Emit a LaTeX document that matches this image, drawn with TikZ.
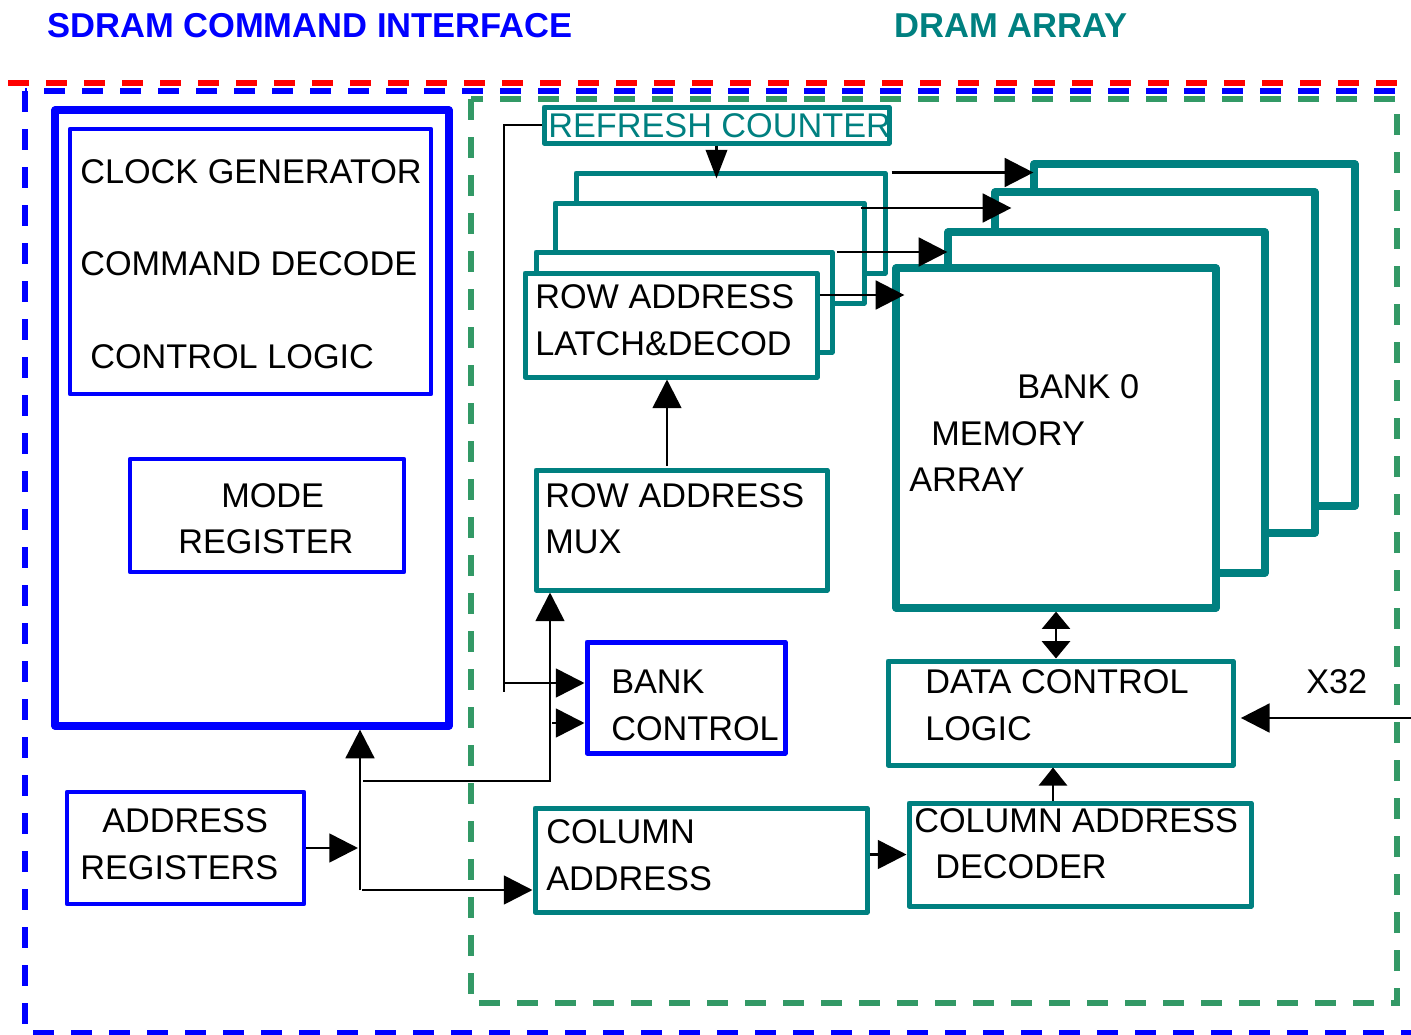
\documentclass[tikz,border=0pt]{standalone}
\usepackage{fontspec}
\setmainfont{Liberation Sans}
\usetikzlibrary{arrows.meta,calc,fit}

\definecolor{sdblue}{RGB}{0,0,255}
\definecolor{arrteal}{RGB}{0,128,128}
\definecolor{arrgreen}{RGB}{51,153,102}
\definecolor{cutred}{RGB}{255,0,0}

\begin{document}
\begin{tikzpicture}[x=0.75pt,y=-0.75pt,
  frame/.style={line width=4.4pt, dash pattern=on 16pt off 12.5pt},
  box/.style={draw, rectangle, inner sep=0pt, fill=white, line join=round},
  bluebox/.style={box, draw=sdblue, line width=3.4pt},
  thickblue/.style={box, draw=sdblue, line width=5.4pt},
  tealbox/.style={box, draw=arrteal, line width=3.75pt},
  bankbox/.style={box, draw=arrteal, line width=5.4pt},
  txt/.style={anchor=base west, inner sep=0pt, font=\fontsize{25.7pt}{31pt}\selectfont},
  ttl/.style={anchor=base west, inner sep=0pt, font=\fontsize{25.9pt}{31pt}\selectfont\bfseries},
  wire/.style={line width=2pt, draw=black},
  arr/.style={wire, -{Triangle[length=21.5pt,width=21.5pt]}},
  arrn/.style={wire, -{Triangle[length=21.5pt,width=16pt]}},
  arrs/.style={wire, -{Triangle[length=13.5pt,width=21pt]}},
  dbl/.style={wire, {Triangle[length=13pt,width=21pt]}-{Triangle[length=13pt,width=21pt]}}
]
\useasboundingbox (0,0) rectangle (1411,1035);
\clip (0,0) rectangle (1411,1035);

% section headings
\node[ttl, text=sdblue] (hcmd) at (47,37) {SDRAM COMMAND INTERFACE};
\node[ttl, text=arrteal] (harr) at (894,37) {DRAM ARRAY};

% region frames
\draw[frame, cutred] (8,83) -- (1420,83);
\draw[frame, sdblue] (25,91) rectangle (1440,1033);
\draw[frame, arrgreen] (471,99) rectangle (1397,1003);

% command interface blocks
\node[thickblue, fit={(55,110) (449,726)}] (big) {};
\node[bluebox, fit={(70,129) (431,394)}] (ctl) {};
\node[bluebox, fit={(130,459) (404,572)}] (mode) {};
\node[bluebox, fit={(67,792) (304,904)}] (addr) {};

% refresh counter and row address latch stack
\node[tealbox, fit={(544,107) (889,143)}] (refresh) {};
\node[tealbox, fit={(576,173) (885,273)}] (stack1) {};
\node[tealbox, fit={(555,203) (864,303)}] (stack2) {};
\node[tealbox, fit={(536,252) (832,352)}] (stack3) {};
\node[tealbox, fit={(525,273) (817,377)}] (latch) {};
\node[tealbox, fit={(536,470) (827,590)}] (mux) {};
\node[bluebox, draw=sdblue, line width=3.75pt, fit={(587,642) (785,753)}] (bankctl) {};
\node[tealbox, fit={(535,808) (867,912)}] (coladdr) {};

% memory banks, back to front
\node[bankbox, fit={(1034,164) (1355,506)}] (bank3) {};
\node[bankbox, fit={(995,192) (1315,533)}] (bank2) {};
\node[bankbox, fit={(948,232) (1265,573)}] (bank1) {};
\node[bankbox, fit={(896,268) (1216,608)}] (bank0) {};
\node[tealbox, fit={(888,661) (1233,765)}] (data) {};
\node[tealbox, fit={(909,803) (1251,906)}] (coldec) {};

% labels
\node[txt] (t1) at (80,183) {CLOCK GENERATOR};
\node[txt] (t2) at (80,275) {COMMAND DECODE};
\node[txt] (t3) at (90,368) {CONTROL LOGIC};
\node[txt] (t4) at (221,507) {MODE};
\node[txt] (t5) at (178,553) {REGISTER};
\node[txt] (t6) at (102,832) {ADDRESS};
\node[txt] (t7) at (80,879) {REGISTERS};
\node[txt, text=arrteal] (t8) at (548,137) {REFRESH COUNTER};
\node[txt] (t9) at (535,308) {ROW ADDRESS};
\node[txt] (t10) at (535,355) {LATCH\&DECOD};
\node[txt] (t11) at (545,507) {ROW ADDRESS};
\node[txt] (t12) at (545,553) {MUX};
\node[txt] (t13) at (611,693) {BANK};
\node[txt] (t14) at (611,740) {CONTROL};
\node[txt] (t15) at (546,843) {COLUMN};
\node[txt] (t16) at (546,890) {ADDRESS};
\node[txt] (t17) at (1017,398) {BANK 0};
\node[txt] (t18) at (931,445) {MEMORY};
\node[txt] (t19) at (909,491) {ARRAY};
\node[txt] (t20) at (925,693) {DATA CONTROL};
\node[txt] (t21) at (925,740) {LOGIC};
\node[txt] (t22) at (1306,693) {X32};
\node[txt] (t23) at (914,832) {COLUMN ADDRESS};
\node[txt] (t24) at (935,878) {DECODER};

% junction points of the wiring
\coordinate (rbus) at (504,692);
\coordinate (bk1) at ($(bankctl.west)+(0,-14.5)$);
\coordinate (bk2) at ($(bankctl.west)+(0,25.5)$);
\coordinate (spine) at (360,890);
\coordinate (mj) at (550,781);
\coordinate (cdtop) at ($(coldec.north)+(-27,0)$);
\coordinate (xin) at (1415,718);

% refresh counter feeds
\draw[arrn] (refresh.south) -- ($(refresh.south |- stack1.north)+(0,8)$);
\draw[wire] (refresh.west) -| (rbus);
\draw[arr] (rbus |- bk1) -- (bk1);

% row address latches to banks
\draw[arr] ($(stack1.north east)+(4,2)$) -- ($(bank3.west |- stack1.north east)+(3,2)$);
\draw[arr] ($(stack2.north east)+(-6,7.5)$) -- ($(bank2.west |- stack2.north east)+(20,7.5)$);
\draw[arr] ($(stack3.north east)+(2,2.5)$) -- ($(bank1.west |- stack3.north east)+(3,2.5)$);
\draw[arr] ($(latch.north east)+(0,24.5)$) -- ($(bank0.west |- latch.north east)+(12,24.5)$);

% address distribution
\draw[arr] (addr.east) -- ($(addr.east -| spine)+(-2,0)$);
\draw[arr] (spine) -- (spine |- big.south);
\draw[arr] ($(spine)+(2,0)$) -- (spine -| coladdr.west);
\draw[arr] ($(spine |- mj)+(3,0)$) -| (mux.south -| mj);
\draw[arr] ($(mj |- bk2)+(2,0)$) -- (bk2);
\draw[arr] ($(mux.north)+(-14.5,-2)$) -- ($(latch.south)+(-4,0)$);

% column path and data
\draw[arr] (coldec.west -| coladdr.east) -- (coldec.west);
\draw[arrs] (cdtop) -- (cdtop |- data.south);
\draw[dbl] (bank0.south) -- (bank0.south |- data.north);
\draw[arr, shorten >=4pt] (xin) -- (xin -| data.east);
\end{tikzpicture}
\end{document}
